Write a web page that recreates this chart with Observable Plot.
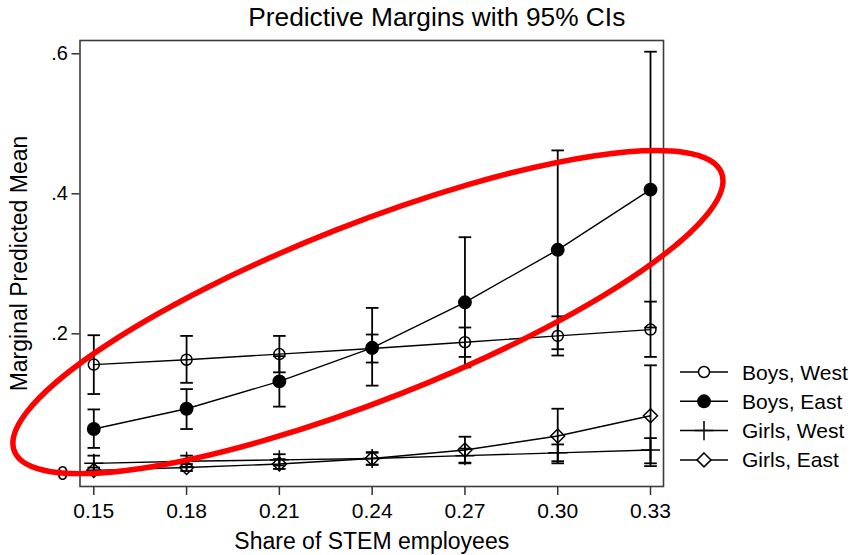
<!DOCTYPE html>
<html><head><meta charset="utf-8">
<script src="https://cdn.jsdelivr.net/npm/d3@7"></script>
<script src="https://cdn.jsdelivr.net/npm/@observablehq/plot@0.6"></script>
<style>
html,body{margin:0;padding:0;background:#fff;}
#chart{width:853px;height:555px;}
#chart svg{font-family:"Liberation Sans",Arial,sans-serif;color:#000;background:#fff;}
</style></head><body><div id="chart"></div>
<script>
// ---- data ----
const shares = [0.15, 0.18, 0.21, 0.24, 0.27, 0.30, 0.33];
const xTickLabels = ["0.15", "0.18", "0.21", "0.24", "0.27", "0.30", "0.33"];
const yTicks = [0, 0.2, 0.4, 0.6];
const yTickLabels = ["0", ".2", ".4", ".6"];

const seriesNames = ["Boys, West", "Boys, East", "Girls, West", "Girls, East"];

const boysWest   = [0.156, 0.163, 0.171, 0.179, 0.188, 0.197, 0.206];
const boysWestLo = [0.114, 0.130, 0.145, 0.159, 0.167, 0.169, 0.167];
const boysWestHi = [0.198, 0.197, 0.197, 0.199, 0.209, 0.225, 0.246];

const boysEast   = [0.064, 0.093, 0.132, 0.180, 0.245, 0.320, 0.406];
const boysEastLo = [0.037, 0.064, 0.096, 0.126, 0.152, 0.178, 0.209];
const boysEastHi = [0.092, 0.121, 0.168, 0.237, 0.338, 0.462, 0.603];

const girlsWest   = [0.015, 0.018, 0.020, 0.022, 0.026, 0.030, 0.034];
const girlsWestLo = [0.005, 0.010, 0.012, 0.013, 0.016, 0.018, 0.015];
const girlsWestHi = [0.026, 0.026, 0.028, 0.030, 0.036, 0.042, 0.051];

const girlsEast   = [0.005, 0.009, 0.014, 0.022, 0.034, 0.054, 0.083];
const girlsEastLo = [0.001, 0.004, 0.007, 0.013, 0.015, 0.015, 0.011];
const girlsEastHi = [0.009, 0.014, 0.021, 0.031, 0.053, 0.093, 0.155];

const titleText = "Predictive Margins with 95% CIs";
const xLabel = "Share of STEM employees";
const yLabel = "Marginal Predicted Mean";

// red annotation ellipse (centre in data units)
const ellipseCenter = {x: 0.2388, y: 0.2304};

// ---- build table ----
const means = [boysWest, boysEast, girlsWest, girlsEast];
const los = [boysWestLo, boysEastLo, girlsWestLo, girlsEastLo];
const his = [boysWestHi, boysEastHi, girlsWestHi, girlsEastHi];
const rows = seriesNames.flatMap((name, s) =>
  shares.map((x, i) => ({series: name, x, y: means[s][i], lo: los[s][i], hi: his[s][i]})));
const bySeries = name => rows.filter(d => d.series === name);

const capSymbol = {draw(ctx, size) { const w = Math.sqrt(size / Math.PI); ctx.moveTo(-w, 0); ctx.lineTo(w, 0); }};

const markerStyles = [
  {symbol: "circle", d3sym: d3.symbolCircle, r: 5.5, fill: "none"},
  {symbol: "circle", d3sym: d3.symbolCircle, r: 6.2, fill: "black"},
  {symbol: "plus", d3sym: d3.symbolPlus, r: 6.2, fill: "none"},
  {symbol: "diamond2", d3sym: d3.symbolDiamond2, r: 6.3, fill: "none"}
];

function ellipseMark(index, scales, values, dims) {
  const g = d3.create("svg:g");
  const cx = scales.x(ellipseCenter.x), cy = scales.y(ellipseCenter.y);
  g.append("ellipse")
    .attr("cx", 0).attr("cy", 0).attr("rx", 380).attr("ry", 88)
    .attr("transform", `translate(${cx},${cy}) rotate(-21.5)`)
    .attr("fill", "none").attr("stroke", "#ff0000").attr("stroke-width", 5.5);
  return g.node();
}

function legendMark(index, scales, values, dims) {
  const g = d3.create("svg:g");
  const x0 = dims.width - dims.marginRight;
  const yBase = dims.height - dims.marginBottom - 114;
  seriesNames.forEach((name, i) => {
    const y = yBase + i * 29.3;
    const m = markerStyles[i];
    g.append("line").attr("x1", x0 + 17).attr("x2", x0 + 65).attr("y1", y).attr("y2", y)
      .attr("stroke", "black").attr("stroke-width", 1.5);
    g.append("path").attr("d", d3.symbol(m.d3sym, m.r * m.r * Math.PI)())
      .attr("transform", `translate(${x0 + 41},${y})`)
      .attr("fill", m.fill === "black" ? "black" : (m.symbol === "plus" ? "none" : "white"))
      .attr("stroke", "black").attr("stroke-width", 1.5);
    g.append("text").attr("x", x0 + 79).attr("y", y).attr("dy", "0.36em")
      .attr("text-anchor", "start")
      .attr("font-size", 21).attr("fill", "black").text(name);
  });
  return g.node();
}

const plot = Plot.plot({
  width: 853,
  height: 555,
  marginLeft: 79.5,
  marginRight: 190,
  marginTop: 40,
  marginBottom: 69,
  style: {background: "white", color: "black"},
  x: {domain: [0.14554, 0.3342], label: null},
  y: {domain: [-0.0181, 0.619], label: null},
  marks: [
    Plot.frame({stroke: "#3c3c3c", strokeWidth: 1.6}),
    Plot.axisX(shares, {tickSize: 9, tickPadding: 8, fontSize: 21, stroke: "#333", strokeWidth: 1.5,
      tickFormat: (d, i) => xTickLabels[shares.indexOf(d)], label: null}),
    Plot.axisY(yTicks, {tickSize: 8, tickPadding: 4, fontSize: 20, stroke: "#333", strokeWidth: 1.5,
      tickFormat: d => yTickLabels[yTicks.indexOf(d)], label: null}),
    ...seriesNames.map(name => Plot.line(bySeries(name), {x: "x", y: "y", stroke: "black", strokeWidth: 1.4})),
    Plot.ruleX(rows, {x: "x", y1: "lo", y2: "hi", stroke: "black", strokeWidth: 1.8}),
    Plot.dot(rows, {x: "x", y: "lo", symbol: capSymbol, r: 6.3, stroke: "black", strokeWidth: 1.8}),
    Plot.dot(rows, {x: "x", y: "hi", symbol: capSymbol, r: 6.3, stroke: "black", strokeWidth: 1.8}),
    ...seriesNames.map((name, i) => Plot.dot(bySeries(name), {
      x: "x", y: "y", symbol: markerStyles[i].symbol, r: markerStyles[i].r,
      fill: markerStyles[i].fill, stroke: "black", strokeWidth: 1.5
    })),
    ellipseMark,
    legendMark,
    Plot.text([titleText], {frameAnchor: "top", lineAnchor: "middle", dx: 65, dy: -22.5, fontSize: 26.3, fill: "black"}),
    Plot.text([xLabel], {frameAnchor: "bottom", lineAnchor: "middle", dy: 55, fontSize: 23, fill: "black"}),
    Plot.text([yLabel], {frameAnchor: "left", textAnchor: "middle", dx: -60, rotate: -90, fontSize: 23, fill: "black"})
  ]
});
document.getElementById("chart").appendChild(plot);
</script></body></html>
